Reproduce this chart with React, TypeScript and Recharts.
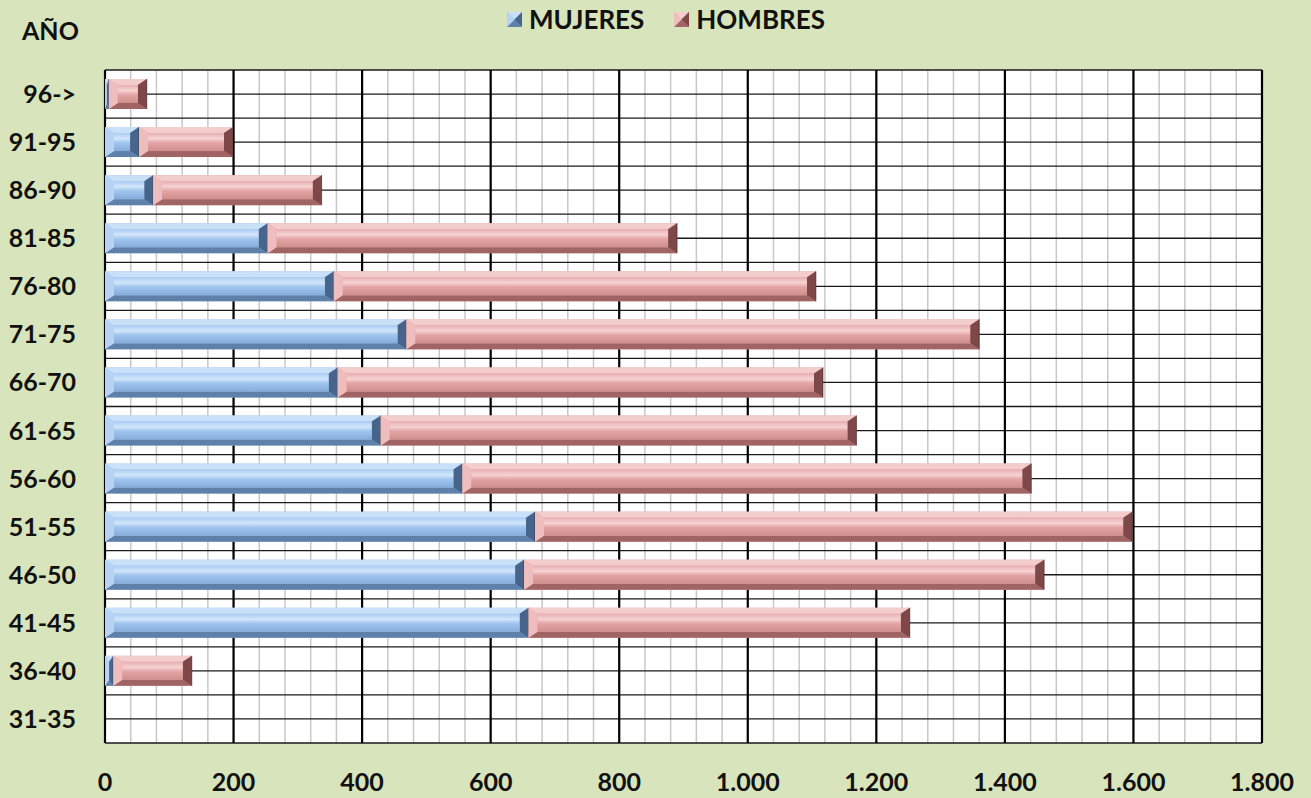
import { BarChart, Bar, XAxis, YAxis, CartesianGrid } from 'recharts'

const categories = ['96->', '91-95', '86-90', '81-85', '76-80', '71-75', '66-70', '61-65', '56-60', '51-55', '46-50', '41-45', '36-40', '31-35']
const mujeres = [6, 53, 75, 253, 356, 469, 362, 429, 556, 669, 652, 659, 13, 0]
const hombres = [59, 146, 262, 637, 750, 891, 755, 740, 885, 929, 809, 593, 122, 0]
const xTicks = [0, 200, 400, 600, 800, 1000, 1200, 1400, 1600, 1800]
const minorStep = 40
const xMax = 1800

const data = categories.map((name, i) => ({ name, mujeres: mujeres[i], hombres: hombres[i] }))

const FONT = 'Lato, "Open Sans", sans-serif'

const palette = {
  m: { face: '#9cc2ee', top: '#c9e0f8', bottom: '#5f80a9', left: '#b4d3f5', right: '#47648a' },
  h: { face: '#e3a1a1', top: '#f3cccc', bottom: '#a06464', left: '#efbdbd', right: '#7f4848' },
}

const fmt = (v: number) =>
  v >= 1000 ? `${Math.floor(v / 1000)}.${String(v % 1000).padStart(3, '0')}` : String(v)

function BevelBar(props: any) {
  const { x, y, width, height, kind } = props
  if (!width || width <= 0) return null
  const c = palette[kind as 'm' | 'h']
  const b = Math.min(9, width / 2)
  const bv = 6
  const id = `grad-${kind}`
  return (
    <g>
      <rect x={x} y={y} width={width} height={height} fill={c.face} />
      <polygon points={`${x},${y} ${x + width},${y} ${x + width - b},${y + bv} ${x + b},${y + bv}`} fill={c.top} />
      <polygon
        points={`${x},${y + height} ${x + width},${y + height} ${x + width - b},${y + height - bv} ${x + b},${y + height - bv}`}
        fill={c.bottom}
      />
      <polygon points={`${x},${y} ${x + b},${y + bv} ${x + b},${y + height - bv} ${x},${y + height}`} fill={c.left} />
      <polygon
        points={`${x + width},${y} ${x + width - b},${y + bv} ${x + width - b},${y + height - bv} ${x + width},${y + height}`}
        fill={c.right}
      />
      <rect x={x + b} y={y + bv} width={Math.max(0, width - 2 * b)} height={height - 2 * bv} fill={`url(#${id})`} />
      <line x1={x + width} y1={y} x2={x + width} y2={y + height} stroke="#3a2a2a" strokeOpacity={0.6} strokeWidth={1} />
    </g>
  )
}

function XTick(props: any) {
  const { x, y, payload } = props
  return (
    <text x={x} y={y + 40} textAnchor="middle" fontFamily={FONT} fontWeight={700} fontSize={25} fill="#111">
      {fmt(payload.value)}
    </text>
  )
}

function YTick(props: any) {
  const { x, y, payload } = props
  return (
    <text x={x - 21} y={y + 9} textAnchor="end" fontFamily={FONT} fontWeight={700} fontSize={25} fill="#111">
      {payload.value}
    </text>
  )
}

function LegendMarker({ kind }: { kind: 'm' | 'h' }) {
  const c = palette[kind]
  return (
    <svg width={15} height={15} style={{ display: 'block' }}>
      <rect x={0} y={0} width={15} height={15} fill={c.face} />
      <polygon points="0,0 15,0 7.5,7.5" fill={c.top} />
      <polygon points="0,15 15,15 7.5,7.5" fill={c.bottom} />
      <polygon points="0,0 0,15 7.5,7.5" fill={c.left} />
      <polygon points="15,0 15,15 7.5,7.5" fill={c.right} />
    </svg>
  )
}

function LegendBox() {
  const items: { kind: 'm' | 'h'; label: string }[] = [
    { kind: 'm', label: 'MUJERES' },
    { kind: 'h', label: 'HOMBRES' },
  ]
  return (
    <div style={{ position: 'absolute', left: 507, top: 3, display: 'flex', alignItems: 'center' }}>
      {items.map((it, i) => (
        <div key={it.label} style={{ display: 'flex', alignItems: 'center', marginRight: i === 0 ? 30 : 0 }}>
          <LegendMarker kind={it.kind} />
          <span style={{ fontFamily: FONT, fontWeight: 700, fontSize: 26, color: '#111', marginLeft: 7 }}>{it.label}</span>
        </div>
      ))}
    </div>
  )
}

const minorGen = ({ offset }: any) => {
  const out: number[] = []
  for (let v = 0; v <= xMax; v += minorStep) out.push(offset.left + (v / xMax) * offset.width)
  return out
}
const majorGen = ({ offset }: any) => xTicks.map((v) => offset.left + (v / xMax) * offset.width)
const horizGen = ({ offset }: any) => {
  const out: number[] = []
  const n = categories.length * 2
  for (let i = 0; i <= n; i++) out.push(offset.top + (i / n) * offset.height)
  return out
}

export default function App() {
  return (
    <div style={{ position: 'absolute', left: 0, top: 0, width: 1311, height: 798, background: '#d8e4bc', overflow: 'hidden' }}>
      <div style={{ position: 'absolute', left: 22, top: 15, fontFamily: FONT, fontWeight: 700, fontSize: 25, color: '#111' }}>AÑO</div>
      <LegendBox />
      <BarChart
        width={1311}
        height={798}
        data={data}
        layout="vertical"
        barSize={30}
        margin={{ top: 70, right: 49, bottom: 10, left: 10 }}
      >
        <defs>
          <linearGradient id="grad-m" x1="0" y1="0" x2="0" y2="1">
            <stop offset="0%" stopColor="#a9ccf3" />
            <stop offset="30%" stopColor="#d3e6fb" />
            <stop offset="55%" stopColor="#9fc4ee" />
            <stop offset="100%" stopColor="#86acdb" />
          </linearGradient>
          <linearGradient id="grad-h" x1="0" y1="0" x2="0" y2="1">
            <stop offset="0%" stopColor="#e8aeae" />
            <stop offset="30%" stopColor="#f6d3d3" />
            <stop offset="55%" stopColor="#e4a3a3" />
            <stop offset="100%" stopColor="#d08f8f" />
          </linearGradient>
        </defs>
        <CartesianGrid
          fill="#ffffff"
          horizontal={false}
          stroke="#c8c8c8"
          strokeWidth={1.5}
          verticalCoordinatesGenerator={minorGen}
        />
        <CartesianGrid vertical={false} stroke="#1a1a1a" strokeWidth={1.3} horizontalCoordinatesGenerator={horizGen} />
        <CartesianGrid horizontal={false} stroke="#000" strokeWidth={2.2} verticalCoordinatesGenerator={majorGen} />
        <XAxis
          type="number"
          domain={[0, xMax]}
          ticks={xTicks}
          interval={0}
          axisLine={false}
          tickLine={false}
          height={45}
          tick={<XTick />}
        />
        <YAxis type="category" dataKey="name" width={95} axisLine={false} tickLine={false} interval={0} tick={<YTick />} />
        <Bar dataKey="mujeres" name="MUJERES" stackId="a" isAnimationActive={false} shape={(p: any) => <BevelBar {...p} kind="m" />} />
        <Bar dataKey="hombres" name="HOMBRES" stackId="a" isAnimationActive={false} shape={(p: any) => <BevelBar {...p} kind="h" />} />
      </BarChart>
    </div>
  )
}
